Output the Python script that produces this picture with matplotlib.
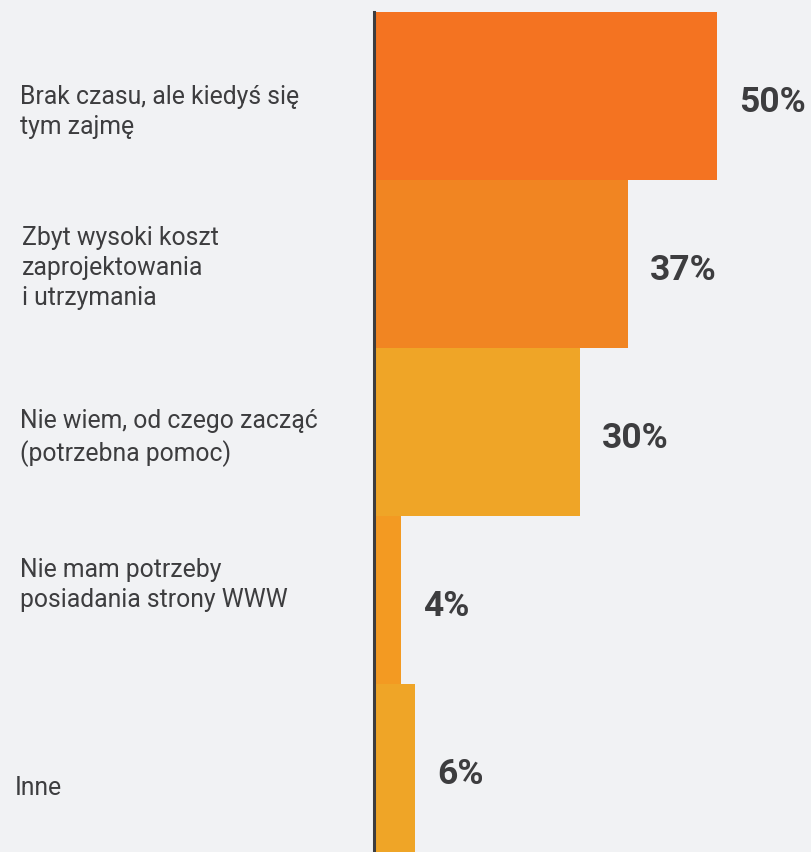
import matplotlib
matplotlib.use("Agg")
import matplotlib.pyplot as plt
import matplotlib.transforms as mtransforms

categories = [
    "Brak czasu, ale kiedyś się\ntym zajmę",
    "Zbyt wysoki koszt\nzaprojektowania\ni utrzymania",
    "Nie wiem, od czego zacząć\n(potrzebna pomoc)",
    "Nie mam potrzeby\nposiadania strony WWW",
    "Inne",
]
values = [50, 37, 30, 4, 6]
bar_colors = ["#f47321", "#f18522", "#efa527", "#f39a22", "#efa527"]
label_dy = [15, 3, 5, -16, 19]   # small vertical nudges (pixels) of the left labels
label_x = [20, 22, 20, 20, 15]

BG = "#f1f2f4"
TXT = "#3d3d3f"
W, H = 812, 853

fig = plt.figure(figsize=(W / 100, H / 100), dpi=100, facecolor=BG)
ax = fig.add_axes([374 / W, 0, (W - 374) / W, (H - 13) / H], facecolor=BG)

pos = list(range(len(values)))
ax.barh(pos, values, height=1.0, color=bar_colors, linewidth=0, zorder=2)
ax.set_ylim(len(values) - 0.5, -0.5)
ax.set_xlim(0, 50 * (W - 374) / (717 - 374))

for s in ["top", "right", "bottom"]:
    ax.spines[s].set_visible(False)
ax.spines["left"].set_color("#3d3d3f")
ax.spines["left"].set_linewidth(2.2)
ax.spines["left"].set_zorder(3)
ax.set_xticks([])
ax.set_yticks([])

for i, v in enumerate(values):
    ax.annotate(f"{v}%", xy=(v, i), xytext=(22, -5), textcoords="offset pixels",
                ha="left", va="center", fontsize=25.5, fontweight="bold",
                family="Roboto", color=TXT)

blend = mtransforms.blended_transform_factory(fig.transFigure, ax.transData)
for i, lab in enumerate(categories):
    ax.annotate(lab, xy=(label_x[i] / W, i), xycoords=blend,
                xytext=(0, -label_dy[i]), textcoords="offset pixels",
                ha="left", va="center", fontsize=17.8, family="Roboto",
                color=TXT, linespacing=1.3, annotation_clip=False)

fig.savefig("out.png", dpi=100, facecolor=BG)
